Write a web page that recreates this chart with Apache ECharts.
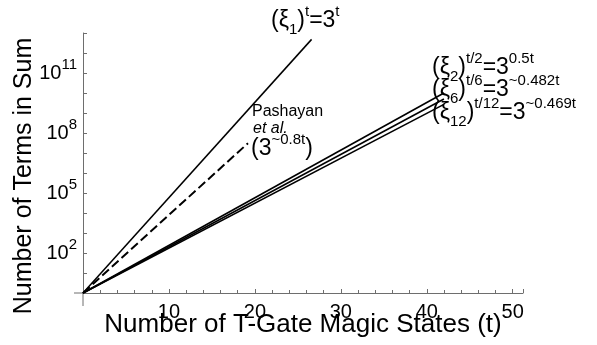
<!DOCTYPE html>
<html><head><meta charset="utf-8">
<script src="https://cdn.jsdelivr.net/npm/echarts@6/dist/echarts.min.js"></script>
<style>html,body{margin:0;padding:0;background:#fff}#c{width:597px;height:345px}</style>
</head><body><div id="c"></div>
<script>
// Data (t, number of terms)
const tXi1 = [0, 26.6];   const nXi1 = [1, 4.8e12];   // (xi_1)^t = 3^t
const tPash = [0, 19.2];  const nPash = [1, 3.1e7];   // Pashayan et al. 3^~0.8t
const tXi2 = [0, 42];     const nXi2 = [1, 1.0e10];   // 3^0.5t
const tXi6 = [0, 42];     const nXi6 = [1, 5.0e9];    // 3^~0.482t
const tXi12 = [0, 42];    const nXi12 = [1, 2.7e9];   // 3^~0.469t
const xTickLabels = [10, 20, 30, 40, 50];
const yTickExponents = [2, 5, 8, 11];
const xRange = [0, 51.2];
const yRange = [1, 1e13];

const FONT = "'Liberation Sans', Arial, Helvetica, sans-serif";
const AX = '#6e6e6e';
function pairs(t, n) { return t.map((v, i) => [v, n[i]]); }
function lineSeries(name, t, n, style) {
  return { name, type: 'line', data: pairs(t, n), symbol: 'none', silent: true, animation: false,
    lineStyle: Object.assign({ color: '#000', width: 1.6 }, style) };
}

const chart = echarts.init(document.getElementById('c'), null, { renderer: 'canvas' });
chart.setOption({
  animation: false,
  grid: { left: 83, right: 74, top: 33, bottom: 52, containLabel: false, outerBoundsMode: 'none' },
  xAxis: {
    type: 'value', min: xRange[0], max: xRange[1], interval: 10,
    axisLine: { onZero: false, lineStyle: { color: AX, width: 1 } },
    axisTick: { inside: true, length: 4, lineStyle: { color: AX } },
    minorTick: { show: true, splitNumber: 5, length: 3, lineStyle: { color: AX } },
    splitLine: { show: false },
    axisLabel: { margin: 9, color: '#000', fontFamily: FONT, fontSize: 20,
      formatter: v => xTickLabels.includes(v) ? String(v) : '' },
    name: 'Number of T-Gate Magic States (t)', nameLocation: 'middle', nameGap: 19, nameMoveOverlap: false,
    nameTextStyle: { color: '#000', fontFamily: FONT, fontSize: 26 }
  },
  yAxis: {
    type: 'log', logBase: 10, min: yRange[0], max: yRange[1], interval: 1,
    axisLine: { show: true, onZero: false, lineStyle: { color: AX } },
    axisTick: { show: true, inside: true, length: 4, lineStyle: { color: AX } },
    minorTick: { show: false }, splitLine: { show: false },
    axisLabel: { margin: 6, color: '#000', fontFamily: FONT,
      formatter: v => { const e = Math.round(Math.log10(v)); return yTickExponents.includes(e) ? '{b|10}{s|' + e + '}' : ''; },
      rich: { b: { fontSize: 20, lineHeight: 32, fontFamily: FONT, color: '#000' },
              s: { fontSize: 15, lineHeight: 15, verticalAlign: 'top', fontFamily: FONT, color: '#000' } } }
  },
  series: [
    lineSeries('xi1', tXi1, nXi1, { width: 1.5 }),
    lineSeries('Pashayan', tPash, nPash, { width: 2, type: [9, 4] }),
    lineSeries('xi2', tXi2, nXi2, {}),
    lineSeries('xi6', tXi6, nXi6, {}),
    lineSeries('xi12', tXi12, nXi12, {})
  ]
});

const richBase = {
  m: { fontSize: 23, lineHeight: 33, fontFamily: FONT, fill: '#000' },
  sub: { fontSize: 15, lineHeight: 25, verticalAlign: 'bottom', fontFamily: FONT, fill: '#000' },
  sup: { fontSize: 15, lineHeight: 15, verticalAlign: 'top', fontFamily: FONT, fill: '#000' }
};
function rt(x, y, text) {
  return { type: 'text', x, y, silent: true,
    style: { text, rich: richBase, align: 'left', verticalAlign: 'middle', fontFamily: FONT } };
}
const o = chart.convertToPixel({ gridIndex: 0 }, [0, 1]);
chart.setOption({
  graphic: [
    { type: 'line', silent: true, shape: { x1: o[0] - 9, y1: o[1], x2: o[0], y2: o[1] }, style: { stroke: AX, lineWidth: 1 } },
    { type: 'line', silent: true, shape: { x1: o[0], y1: o[1], x2: o[0], y2: o[1] + 13 }, style: { stroke: AX, lineWidth: 1 } },
    { type: 'text', x: 24, y: 176, rotation: Math.PI / 2, silent: true,
      style: { text: 'Number of Terms in Sum', fontSize: 25, fontFamily: FONT, fill: '#000', align: 'center', verticalAlign: 'middle' } },
    rt(271, 21, '{m|(ξ}{sub|1}{m|)}{sup|t}{m|=3}{sup|t}'),
    { type: 'text', x: 252, y: 112, silent: true, style: { text: 'Pashayan', fontSize: 16, fontFamily: FONT, fill: '#000', align: 'left', verticalAlign: 'middle' } },
    { type: 'text', x: 253, y: 129, silent: true, style: { text: 'et al.', fontSize: 16, fontStyle: 'italic', fontFamily: FONT, fill: '#000', align: 'left', verticalAlign: 'middle' } },
    rt(251, 149, '{m|(3}{sup|~0.8t}{m|)}'),
    rt(432, 68, '{m|(ξ}{sub|2}{m|)}{sup|t/2}{m|=3}{sup|0.5t}'),
    rt(432, 90, '{m|(ξ}{sub|6}{m|)}{sup|t/6}{m|=3}{sup|~0.482t}'),
    rt(432, 113, '{m|(ξ}{sub|12}{m|)}{sup|t/12}{m|=3}{sup|~0.469t}')
  ]
});
</script>
</body></html>
